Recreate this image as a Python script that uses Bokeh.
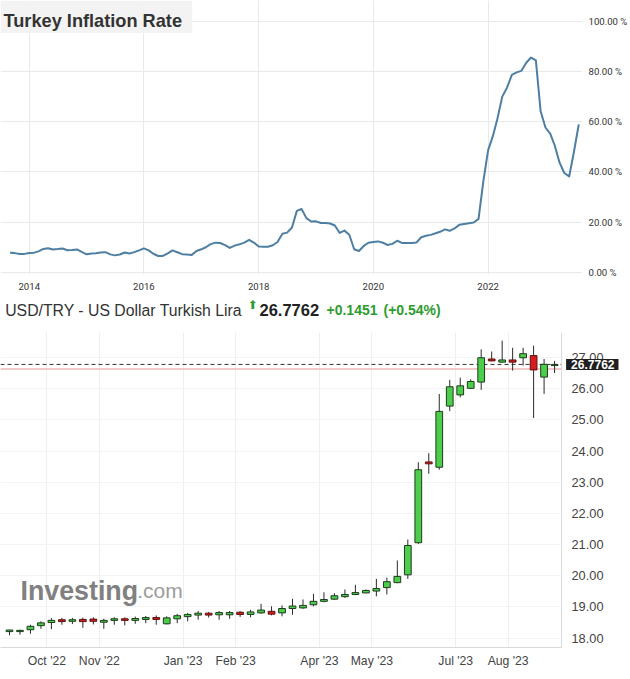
import pandas as pd
from bokeh.plotting import figure
from bokeh.models import (ColumnDataSource, Range1d, FixedTicker, PrintfTickFormatter,
                          DatetimeTickFormatter, Label, BoxAnnotation, Span)
from bokeh.layouts import column
from bokeh.embed import file_html
from bokeh.resources import INLINE

# ---------------- data: Turkey inflation rate (monthly, % y/y) ----------------
infl_first_month = "2013-09-01"
inflation = [
    7.88, 7.71, 7.32, 7.40,
    7.75, 7.89, 8.39, 9.38, 9.66, 9.16, 9.32, 9.54, 8.86, 8.96, 9.15, 8.17,
    7.24, 7.55, 7.61, 7.91, 8.09, 7.20, 6.81, 7.14, 7.95, 7.58, 8.10, 8.81,
    9.58, 8.78, 7.46, 6.57, 6.58, 7.64, 8.79, 8.05, 7.28, 7.16, 7.00, 8.53,
    9.22, 10.13, 11.29, 11.87, 11.72, 10.90, 9.79, 10.68, 11.20, 11.90, 12.98, 11.92,
    10.35, 10.26, 10.23, 10.85, 12.15, 15.39, 15.85, 17.90, 24.52, 25.24, 21.62, 20.30,
    20.35, 19.67, 19.71, 19.50, 18.71, 15.72, 16.65, 15.01, 9.26, 8.55, 10.56, 11.84,
    12.15, 12.37, 11.86, 10.94, 11.39, 12.62, 11.76, 11.77, 11.75, 11.89, 14.03, 14.60,
    14.97, 15.61, 16.19, 17.14, 16.59, 17.53, 18.95, 19.25, 19.58, 19.89, 21.31, 36.08,
    48.69, 54.44, 61.14, 69.97, 73.50, 78.62, 79.60, 80.21, 83.45, 85.51, 84.39, 64.27,
    57.68, 55.18, 50.51, 43.68, 39.59, 38.21, 47.83, 58.94,
]
infl_year_ticks = ["2014-01-01", "2016-01-01", "2018-01-01", "2020-01-01", "2022-01-01"]
infl_pct_ticks = [0, 20, 40, 60, 80, 100]
infl_title = "Turkey Inflation Rate"

# ---------------- data: USD/TRY weekly candles ----------------
first_week = "2022-09-04"
opens = [18.21, 18.21, 18.27, 18.40, 18.50, 18.59, 18.54, 18.60, 18.61, 18.51,
         18.57, 18.62, 18.57, 18.60, 18.66, 18.46, 18.62, 18.69, 18.74, 18.80,
         18.75, 18.75, 18.83, 18.76, 18.81, 18.86, 18.81, 18.95, 18.97, 19.07,
         19.18, 19.25, 19.33, 19.40, 19.45, 19.51, 19.62, 19.78, 20.03, 21.06,
         23.65, 23.48, 25.44, 25.80, 26.01, 26.21, 26.95, 26.85, 26.92, 26.99,
         27.06, 26.37, 26.74]
highs = [18.27, 18.27, 18.43, 18.54, 18.64, 18.65, 18.65, 18.66, 18.67, 18.62,
         18.67, 18.67, 18.69, 18.71, 18.73, 18.70, 18.78, 18.81, 18.87, 18.84,
         18.87, 18.87, 18.87, 18.91, 19.10, 19.02, 19.05, 19.26, 19.24, 19.42,
         19.47, 19.44, 19.56, 19.71, 19.56, 19.90, 19.94, 20.49, 21.16, 23.64,
         23.93, 25.83, 26.28, 26.35, 26.30, 27.26, 27.19, 27.54, 27.31, 27.31,
         27.38, 26.95, 26.89]
lows = [18.09, 18.11, 18.14, 18.30, 18.29, 18.43, 18.45, 18.33, 18.44, 18.30,
        18.43, 18.41, 18.46, 18.48, 18.43, 18.44, 18.48, 18.54, 18.59, 18.66,
        18.59, 18.62, 18.68, 18.67, 18.78, 18.73, 18.70, 18.75, 18.94, 19.02,
        19.15, 19.23, 19.29, 19.38, 19.44, 19.34, 19.40, 19.76, 19.90, 21.02,
        23.27, 23.40, 25.28, 25.72, 25.99, 25.96, 26.88, 26.84, 26.58, 26.74,
        25.06, 25.83, 26.50]
closes = [18.26, 18.25, 18.38, 18.49, 18.57, 18.53, 18.59, 18.53, 18.54, 18.57,
          18.62, 18.57, 18.63, 18.66, 18.60, 18.65, 18.72, 18.76, 18.80, 18.74,
          18.82, 18.82, 18.76, 18.84, 18.90, 18.77, 18.95, 19.03, 19.05, 19.18,
          19.24, 19.36, 19.40, 19.46, 19.53, 19.59, 19.81, 19.98, 20.97, 23.40,
          23.59, 25.27, 26.06, 26.09, 26.23, 26.99, 26.89, 26.92, 26.85, 27.12,
          26.60, 26.78, 26.7762]
month_ticks = ["2022-10-02", "2022-11-06", "2023-01-01", "2023-02-05",
               "2023-04-02", "2023-05-07", "2023-07-02", "2023-08-06"]
price_ticks = [18, 19, 20, 21, 22, 23, 24, 25, 26, 27]
pair_title = "USD/TRY - US Dollar Turkish Lira"
last_price = 26.7762
change = 0.1451
change_pct = 0.54

DAY = 86400000.0
W = 630                      # every figure uses the full width as its frame


def ms(values):
    return [float(v) for v in (pd.to_datetime(values).astype("int64") // 10**6)]


FONT = "Liberation Sans"
GREEN = "#2e9c2e"

# ======================= top chart =======================
P1_H, P1_FH = 292, 278
P1_PLOT_W = 582                               # width of the line area
ix0, ix_edge = ms(["2013-07-02", "2023-08-19"])
ix1 = ix0 + W / P1_PLOT_W * (ix_edge - ix0)
iy0, iy1 = -0.8, 108.2

dates1 = pd.date_range(infl_first_month, periods=len(inflation), freq="MS")
src1 = ColumnDataSource(dict(date=dates1, rate=inflation))

p1 = figure(width=W, height=P1_H, x_axis_type="datetime", y_axis_location="right",
            x_range=Range1d(ix0, ix1), y_range=Range1d(iy0, iy1),
            output_backend="svg", toolbar_location=None,
            min_border_left=0, min_border_right=0,
            min_border_top=0, min_border_bottom=P1_H - P1_FH)
p1.outline_line_color = None

p1.xaxis.ticker = FixedTicker(ticks=ms(infl_year_ticks))
p1.xaxis.formatter = DatetimeTickFormatter(
    microseconds="%Y", milliseconds="%Y", seconds="%Y", minsec="%Y", minutes="%Y",
    hourmin="%Y", hours="%Y", days="%Y", months="%Y", years="%Y")
p1.xaxis.bounds = (ix0, ix_edge)
p1.yaxis.ticker = FixedTicker(ticks=infl_pct_ticks)
p1.yaxis.formatter = PrintfTickFormatter(format="%.2f %%")
for ax in (p1.xaxis, p1.yaxis):
    ax.axis_line_color = None
    ax.major_tick_line_color = None
    ax.minor_tick_line_color = None
    ax.major_label_text_font = "Roboto"
    ax.major_label_text_font_size = "9.6px"
    ax.major_label_text_color = "#333333"
p1.xaxis.major_label_standoff = 2
p1.yaxis.major_label_standoff = 583 - W       # labels sit just right of the line area
p1.xgrid.grid_line_color = "#e9e9e9"
p1.ygrid.grid_line_color = "#e9e9e9"

# blank strip behind the percentage labels
p1.add_layout(BoxAnnotation(left=ix_edge, right=ix1, bottom=iy0, top=iy1,
                            fill_color="white", fill_alpha=1.0, line_color=None,
                            level="underlay"))

p1.line(x="date", y="rate", source=src1, line_color="#4e7fa3", line_width=2,
        line_join="round")


def p1x(px):
    return ix0 + px / P1_PLOT_W * (ix_edge - ix0)


def p1y(px_from_top):
    return iy1 - px_from_top / P1_FH * (iy1 - iy0)


p1.add_layout(BoxAnnotation(left=p1x(0), right=p1x(192), bottom=p1y(33), top=p1y(0),
                            fill_color="#f3f3f3", fill_alpha=1.0, line_color=None))
p1.add_layout(Label(x=p1x(3), y=p1y(20.7), text=infl_title, text_font=FONT,
                    text_font_size="18.2px", text_font_style="bold",
                    text_color="#333333", text_baseline="alphabetic"))

# ======================= header row of the lower chart =======================
PH_H = 40
ph = figure(width=W, height=PH_H, x_range=Range1d(0, W), y_range=Range1d(0, PH_H),
            x_axis_location=None, y_axis_location=None,
            output_backend="svg", toolbar_location=None,
            min_border_left=0, min_border_right=0, min_border_top=0, min_border_bottom=0)
ph.outline_line_color = None
ph.xgrid.grid_line_color = None
ph.ygrid.grid_line_color = None
ph.add_layout(Label(x=4.7, y=22, x_units="screen", text=pair_title, text_font=FONT,
                    text_font_size="15.8px", text_color="#333333",
                    text_baseline="alphabetic"))
ph.add_layout(Label(x=252, y=27.5, x_units="screen", text="\u2b06", text_font="DejaVu Sans",
                    text_font_size="12px", text_color=GREEN, text_align="center",
                    text_baseline="middle"))
ph.add_layout(Label(x=259, y=23, x_units="screen", text=f"{last_price:.4f}",
                    text_font=FONT, text_font_size="16.5px", text_font_style="bold",
                    text_color="#222222", text_baseline="alphabetic"))
ph.add_layout(Label(x=326, y=23, x_units="screen", text=f"+{change:.4f}",
                    text_font=FONT, text_font_size="14px", text_font_style="bold",
                    text_color=GREEN, text_baseline="alphabetic"))
ph.add_layout(Label(x=383, y=23, x_units="screen", text=f"(+{change_pct:.2f}%)",
                    text_font=FONT, text_font_size="14px", text_font_style="bold",
                    text_color=GREEN, text_baseline="alphabetic"))

# ======================= lower chart (candles) =======================
P2_H, P2_FH = 347, 315
PLOT_W = 562                      # width of the price area; right of it sits the price scale
DAYS_PER_PX = 374.7 / PLOT_W
bx0 = ms(["2022-09-01"])[0]
bx_edge = bx0 + PLOT_W * DAYS_PER_PX * DAY
bx1 = bx0 + W * DAYS_PER_PX * DAY
by0, by1 = 17.70, 27.80

weeks = pd.date_range(first_week, periods=len(opens), freq="7D")
centers = weeks + pd.Timedelta(days=3)
up = [c >= o for o, c in zip(opens, closes)]
src2 = ColumnDataSource(dict(
    x=centers, o=opens, h=highs, l=lows, c=closes,
    top=[max(o, c) for o, c in zip(opens, closes)],
    bottom=[min(o, c) for o, c in zip(opens, closes)],
    fill=["#4ccd4c" if u else "#d61c1c" for u in up],
    edge=["#1d3b1d" if u else "#5e1010" for u in up],
))

p2 = figure(width=W, height=P2_H, x_axis_type="datetime", y_axis_location="right",
            x_range=Range1d(bx0, bx1), y_range=Range1d(by0, by1),
            output_backend="svg", toolbar_location=None,
            min_border_left=0, min_border_right=0,
            min_border_top=0, min_border_bottom=P2_H - P2_FH)
p2.outline_line_color = None

p2.xaxis.ticker = FixedTicker(ticks=ms(month_ticks))
fmt = "%b '%y"
p2.xaxis.formatter = DatetimeTickFormatter(
    microseconds=fmt, milliseconds=fmt, seconds=fmt, minsec=fmt, minutes=fmt,
    hourmin=fmt, hours=fmt, days=fmt, months=fmt, years=fmt)
p2.xaxis.bounds = (bx0, bx_edge)
p2.xaxis.axis_line_color = "#d9d9d9"
p2.yaxis.ticker = FixedTicker(ticks=price_ticks)
p2.yaxis.formatter = PrintfTickFormatter(format="%.2f")
p2.yaxis.axis_line_color = None
for ax in (p2.xaxis, p2.yaxis):
    ax.major_tick_line_color = None
    ax.minor_tick_line_color = None
    ax.major_label_text_font = FONT
    ax.major_label_text_color = "#444444"
p2.xaxis.major_label_text_font_size = "12.2px"
p2.yaxis.major_label_text_font_size = "12.8px"
p2.xaxis.major_label_standoff = 0
p2.yaxis.major_label_standoff = 566 - W
p2.xgrid.grid_line_color = "#eeeeee"
p2.ygrid.grid_line_color = "#f3f3f3"

# blank strip behind the price scale, and the border of the price area
p2.add_layout(BoxAnnotation(left=bx_edge, right=bx1, bottom=by0, top=by1,
                            fill_color="white", fill_alpha=1.0, line_color=None,
                            level="underlay"))
p2.add_layout(Span(location=bx_edge, dimension="height", line_color="#d9d9d9", line_width=1))

# previous close (pink) and last price (dashed) lines across the price area
p2.segment(x0="x0", y0="y", x1="x1", y1="y",
           source=ColumnDataSource(dict(x0=[bx0], x1=[bx_edge], y=[last_price - change])),
           line_color="#f1c9c9", line_width=2)
p2.segment(x0="x0", y0="y", x1="x1", y1="y",
           source=ColumnDataSource(dict(x0=[bx0], x1=[bx_edge], y=[last_price])),
           line_color="#333333", line_width=1, line_dash="4 3")

p2.segment(x0="x", y0="l", x1="x", y1="h", source=src2, line_color="#2a2a2a", line_width=1)
p2.vbar(x="x", width=4.5 * DAY, top="top", bottom="bottom", source=src2,
        fill_color="fill", line_color="edge", line_width=1)


def p2x(px):
    return bx0 + px * DAYS_PER_PX * DAY


def p2y(px_from_bottom):
    return by0 + px_from_bottom / P2_FH * (by1 - by0)


# current price tag on the price scale
p2.add_layout(Label(x=p2x(566.5), y=last_price, text=f"{last_price:.4f}", text_font=FONT,
                    text_font_size="12px", text_font_style="bold", text_color="white",
                    text_baseline="middle", background_fill_color="#1f1f1f",
                    padding=dict(left=5, right=4, top=1, bottom=1)))

# watermark
p2.add_layout(Label(x=p2x(20), y=p2y(57), text="Investing", text_font=FONT,
                    text_font_size="26.8px", text_font_style="bold", text_color="#808080",
                    text_baseline="alphabetic"))
p2.add_layout(Label(x=p2x(137), y=p2y(57), text=".com", text_font=FONT,
                    text_font_size="21px", text_color="#9c9c9c",
                    text_baseline="alphabetic"))

layout = column(p1, ph, p2)
open("out.html", "w").write(file_html(layout, INLINE))
